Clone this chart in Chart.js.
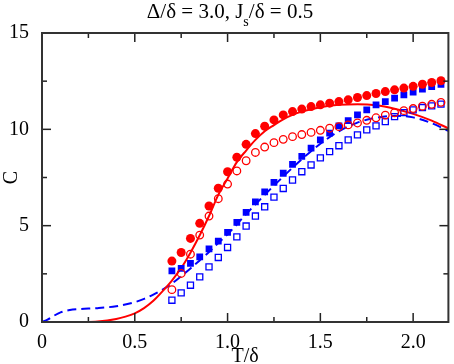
<!DOCTYPE html>
<html>
<head>
<meta charset="utf-8">
<script src="https://cdn.jsdelivr.net/npm/chart.js@4.4.1/dist/chart.umd.min.js"></script>
<style>
html, body { margin: 0; padding: 0; background: #fff; }
#wrap { width: 454px; height: 364px; }
</style>
</head>
<body>
<div id="wrap"><canvas id="chC"></canvas></div>
<script>
// values
var tPoints = [0.70, 0.75, 0.80, 0.85, 0.90, 0.95, 1.00, 1.05, 1.10, 1.15, 1.20, 1.25, 1.30, 1.35, 1.40,
               1.45, 1.50, 1.55, 1.60, 1.65, 1.70, 1.75, 1.80, 1.85, 1.90, 1.95, 2.00, 2.05, 2.10, 2.15];
var cFilledRed = [3.16, 3.61, 4.34, 5.12, 6.02, 6.94, 7.80, 8.55, 9.22, 9.78, 10.16, 10.49, 10.75, 10.92, 11.05,
                  11.18, 11.27, 11.36, 11.44, 11.53, 11.65, 11.75, 11.86, 11.96, 12.05, 12.14, 12.23, 12.34, 12.43, 12.52];
var cOpenRed = [1.68, 2.52, 3.52, 4.51, 5.50, 6.40, 7.16, 7.84, 8.37, 8.80, 9.08, 9.31, 9.48, 9.62, 9.73,
                9.84, 9.95, 10.06, 10.14, 10.23, 10.33, 10.47, 10.60, 10.74, 10.86, 10.97, 11.08, 11.20, 11.30, 11.40];
var cFilledBlue = [2.65, 2.78, 3.04, 3.38, 3.80, 4.20, 4.65, 5.17, 5.69, 6.24, 6.75, 7.25, 7.72, 8.18, 8.60,
                   9.03, 9.45, 9.80, 10.18, 10.45, 10.75, 11.01, 11.27, 11.44, 11.62, 11.79, 11.93, 12.09, 12.22, 12.34];
var cOpenBlue = [1.13, 1.51, 1.91, 2.34, 2.86, 3.35, 3.87, 4.42, 4.98, 5.50, 5.98, 6.48, 6.93, 7.37, 7.80,
                 8.15, 8.52, 8.84, 9.15, 9.45, 9.71, 9.97, 10.18, 10.40, 10.66, 10.87, 11.01, 11.13, 11.22, 11.31];

// solid red curve
var tRedLine = [0.2, 0.3, 0.4, 0.45, 0.5, 0.55, 0.6, 0.65, 0.7, 0.75, 0.8, 0.85, 0.9, 0.95, 1.0, 1.05,
                1.1, 1.15, 1.2, 1.25, 1.3, 1.35, 1.4, 1.5, 1.6, 1.7, 1.8, 1.9, 2.0, 2.1, 2.19];
var cRedLine = [0, 0.03, 0.16, 0.28, 0.45, 0.72, 1.1, 1.6, 2.15, 2.8, 3.6, 4.5, 5.5, 6.6, 7.45, 8.3,
                8.9, 9.45, 9.9, 10.22, 10.52, 10.75, 10.92, 11.15, 11.27, 11.3, 11.25, 11.07, 10.8, 10.45, 10.05];

// dashed blue curve
var tBlueLine = [0, 0.03, 0.06, 0.1, 0.15, 0.2, 0.3, 0.4, 0.5, 0.55, 0.6, 0.65, 0.7, 0.75, 0.8, 0.85,
                 0.9, 0.95, 1.0, 1.1, 1.2, 1.3, 1.4, 1.5, 1.6, 1.7, 1.8, 1.9, 2.0, 2.1, 2.19];
var cBlueLine = [0, 0.12, 0.3, 0.5, 0.62, 0.67, 0.72, 0.82, 1.03, 1.2, 1.42, 1.68, 2.0, 2.38, 2.78, 3.2,
                 3.63, 4.1, 4.55, 5.6, 6.6, 7.55, 8.45, 9.25, 9.9, 10.35, 10.6, 10.7, 10.62, 10.32, 9.92];

// axis ticks
var xTicks = [0, 0.5, 1, 1.5, 2];
var xMinor = [0.25, 0.75, 1.25, 1.75];
var yTicks = [0, 5, 10, 15];
var yMinor = [2.5, 7.5, 12.5];

var serif = 'Liberation Serif';

function pts(xs, ys) {
    return xs.map(function (x, i) { return { x: x, y: ys[i] }; });
}

// title with the subscript s, drawn on the canvas
var titlePlugin = {
    id: 'titleSub',
    afterDraw: function (chart) {
        var ctx = chart.ctx;
        var a = '\u0394/\u03b4 = 3.0, J', s = 's', b = '/\u03b4 = 0.5';
        ctx.save();
        ctx.fillStyle = '#000';
        ctx.textBaseline = 'alphabetic';
        ctx.font = '21px "' + serif + '"';
        var wa = ctx.measureText(a).width, wb = ctx.measureText(b).width;
        ctx.font = '14px "' + serif + '"';
        var ws = ctx.measureText(s).width;
        var x0 = 230 - (wa + ws + wb) / 2, base = 18;
        ctx.font = '21px "' + serif + '"';
        ctx.fillText(a, x0, base);
        ctx.font = '14px "' + serif + '"';
        ctx.fillText(s, x0 + wa, base + 8);
        ctx.font = '21px "' + serif + '"';
        ctx.fillText(b, x0 + wa + ws, base);
        ctx.restore();
    }
};

// box round the plot with inward ticks on all four sides
var framePlugin = {
    id: 'frameTicks',
    afterDatasetsDraw: function (chart) {
        var ctx = chart.ctx, ca = chart.chartArea;
        var xs = chart.scales.x, ys = chart.scales.y;
        function seg(x1, y1, x2, y2) {
            ctx.beginPath(); ctx.moveTo(x1, y1); ctx.lineTo(x2, y2); ctx.stroke();
        }
        ctx.save();
        ctx.strokeStyle = '#222';
        ctx.lineWidth = 1.5;
        xTicks.forEach(function (v) {
            var p = xs.getPixelForValue(v);
            seg(p, ca.bottom, p, ca.bottom - 9); seg(p, ca.top, p, ca.top + 9);
        });
        xMinor.forEach(function (v) {
            var p = xs.getPixelForValue(v);
            seg(p, ca.bottom, p, ca.bottom - 5); seg(p, ca.top, p, ca.top + 5);
        });
        yTicks.forEach(function (v) {
            var p = ys.getPixelForValue(v);
            seg(ca.left, p, ca.left + 9, p); seg(ca.right, p, ca.right - 9, p);
        });
        yMinor.forEach(function (v) {
            var p = ys.getPixelForValue(v);
            seg(ca.left, p, ca.left + 5, p); seg(ca.right, p, ca.right - 5, p);
        });
        ctx.lineWidth = 2;
        ctx.strokeStyle = '#333';
        ctx.strokeRect(ca.left, ca.top, ca.right - ca.left, ca.bottom - ca.top);
        ctx.restore();
    }
};

new Chart(document.getElementById('chC'), {
    type: 'scatter',
    data: {
        datasets: [
            { data: pts(tPoints, cFilledRed), pointStyle: 'circle', pointRadius: 4.5,
              backgroundColor: '#ff0000', borderColor: '#ff0000', borderWidth: 0 },
            { data: pts(tPoints, cOpenRed), pointStyle: 'circle', pointRadius: 3.8,
              backgroundColor: 'rgba(0,0,0,0)', borderColor: '#ff0000', borderWidth: 1.3 },
            { data: pts(tPoints, cFilledBlue), pointStyle: 'rect', pointRadius: 4.8,
              backgroundColor: '#0000ff', borderColor: '#0000ff', borderWidth: 0 },
            { data: pts(tPoints, cOpenBlue), pointStyle: 'rect', pointRadius: 4.3,
              backgroundColor: 'rgba(0,0,0,0)', borderColor: '#0000ff', borderWidth: 1.3 },
            { type: 'line', data: pts(tRedLine, cRedLine), borderColor: '#ff0000', borderWidth: 2,
              pointRadius: 0, fill: false, cubicInterpolationMode: 'monotone' },
            { type: 'line', data: pts(tBlueLine, cBlueLine), borderColor: '#0000ff', borderWidth: 2,
              borderDash: [9, 5], pointRadius: 0, fill: false, cubicInterpolationMode: 'monotone' }
        ]
    },
    options: {
        responsive: true,
        maintainAspectRatio: false,
        devicePixelRatio: 1,
        animation: false,
        layout: { padding: { top: 33, right: 3, left: 0, bottom: 0 } },
        plugins: { legend: { display: false }, tooltip: { enabled: false }, title: { display: false } },
        scales: {
            x: {
                type: 'linear', min: 0, max: 2.19,
                afterBuildTicks: function (s) { s.ticks = xTicks.map(function (v) { return { value: v }; }); },
                afterFit: function (s) { s.height = 42; },
                grid: { display: false },
                border: { display: false },
                ticks: { color: '#000', padding: 1, maxRotation: 0, autoSkip: false,
                         font: { family: serif, size: 20 } },
                title: { display: true, text: 'T/\u03b4', color: '#000', padding: 0,
                         font: { family: serif, size: 20, lineHeight: 0.7 } }
            },
            y: {
                min: 0, max: 15,
                afterBuildTicks: function (s) { s.ticks = yTicks.map(function (v) { return { value: v }; }); },
                afterFit: function (s) { s.width = 42; },
                grid: { display: false },
                border: { display: false },
                ticks: { color: '#000', padding: 5, autoSkip: false,
                         font: { family: serif, size: 20 } },
                title: { display: true, text: 'C', color: '#000', padding: 0,
                         font: { family: serif, size: 20 } }
            }
        }
    },
    plugins: [titlePlugin, framePlugin]
});
</script>
</body>
</html>
